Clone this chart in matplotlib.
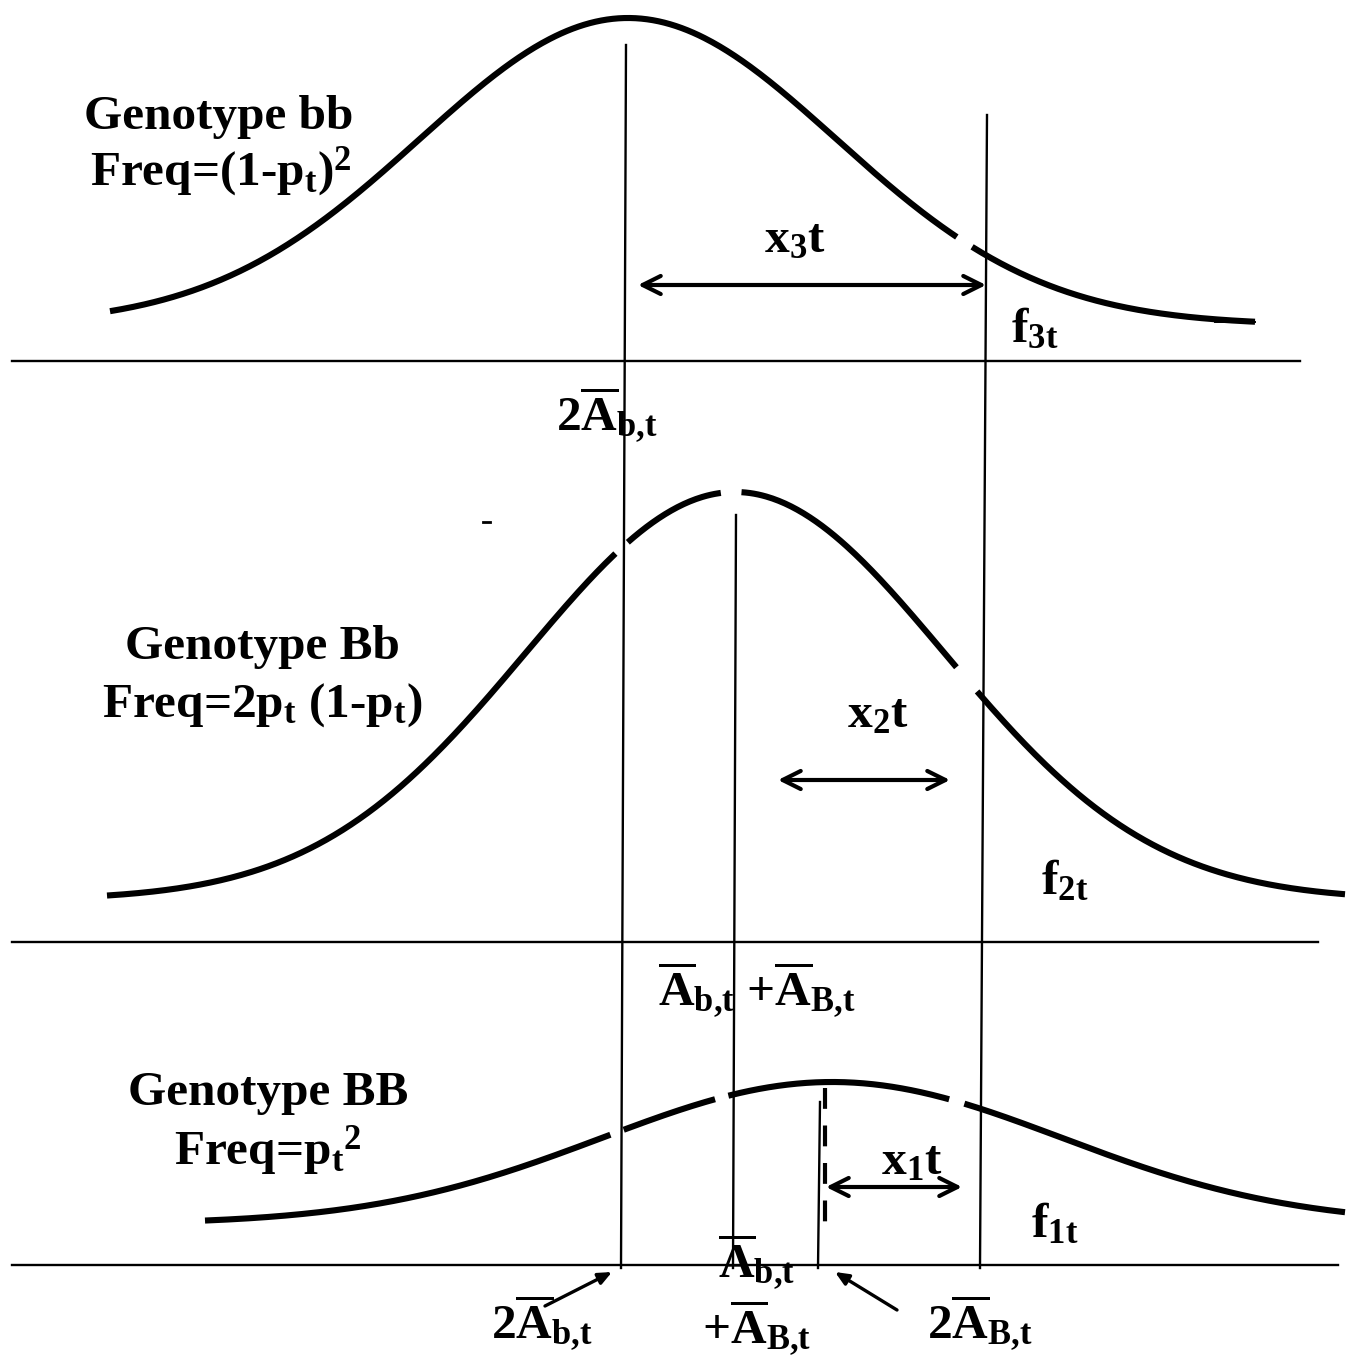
import numpy as np
import matplotlib.pyplot as plt

plt.rcParams['mathtext.fontset'] = 'custom'
plt.rcParams['mathtext.rm'] = 'Liberation Serif:bold'
plt.rcParams['mathtext.bf'] = 'Liberation Serif:bold'
plt.rcParams['mathtext.it'] = 'Liberation Serif:bold'
plt.rcParams['mathtext.default'] = 'bf'

W, H = 1347, 1365

# ---- curve parameters (pixel space) ----
curve_names = ["bb", "Bb", "BB"]
curve_mu = [628, 735, 832]
curve_sigma = [208, 209, 230]
curve_amp = [307, 408, 142]
curve_base = [325, 900, 1224]
curve_x0 = [110, 107, 205]
curve_x1 = [1255, 1345, 1345]
curve_gaps = [[(958, 972)],
              [(617, 626), (722, 740), (958, 976)],
              [(612, 623), (716, 728), (950, 964)]]

# horizontal baselines: y, x start, x end
base_y = [361, 942, 1265]
base_x0 = [12, 12, 12]
base_x1 = [1300, 1318, 1338]

# vertical guide lines: x top, y top, x bottom, y bottom
vline_xt = [626, 987, 736, 820]
vline_yt = [45, 115, 515, 1102]
vline_xb = [621, 980, 733, 818]
vline_yb = [1268, 1268, 1268, 1268]

# double arrows: x left, x right, y
arr_x0 = [638, 778, 826]
arr_x1 = [986, 950, 962]
arr_y = [285, 780, 1187]

fig = plt.figure(figsize=(W / 100, H / 100), dpi=100)
ax = fig.add_axes([0, 0, 1, 1])
ax.set_xlim(0, W)
ax.set_ylim(H, 0)
ax.axis('off')

# curves
for i in range(3):
    x = np.linspace(curve_x0[i], curve_x1[i], 600)
    y = curve_base[i] - curve_amp[i] * np.exp(-(x - curve_mu[i]) ** 2 / (2 * curve_sigma[i] ** 2))
    mask = np.ones_like(x, dtype=bool)
    for g0, g1 in curve_gaps[i]:
        mask &= ~((x > g0) & (x < g1))
    y = np.where(mask, y, np.nan)
    ax.plot(x, y, color='black', lw=4.4, solid_capstyle='butt')

# little double stroke at the end of the top curve
ax.plot([1215, 1255], [322, 322], color='black', lw=1.4)

# baselines
for y, a, b in zip(base_y, base_x0, base_x1):
    ax.plot([a, b], [y, y], color='black', lw=1.7)

# vertical lines
for xt, yt, xb, yb in zip(vline_xt, vline_yt, vline_xb, vline_yb):
    ax.plot([xt, xb], [yt, yb], color='black', lw=1.7)

# dashed thick segment at the BB mean
ax.plot([825, 825], [1088, 1224], color='black', lw=3.0, dashes=(5, 4))

# double arrows
for a, b, y in zip(arr_x0, arr_x1, arr_y):
    ax.annotate('', xy=(b, y), xytext=(a, y),
                arrowprops=dict(arrowstyle='<->,head_length=1.3,head_width=0.65',
                                color='black', lw=3.0, shrinkA=0, shrinkB=0))

# pointer arrows under the bottom baseline
ax.annotate('', xy=(612, 1272), xytext=(545, 1306),
            arrowprops=dict(arrowstyle='-|>,head_length=0.8,head_width=0.35',
                            color='black', lw=2.4, shrinkA=0, shrinkB=0))
ax.annotate('', xy=(835, 1272), xytext=(897, 1310),
            arrowprops=dict(arrowstyle='-|>,head_length=0.8,head_width=0.35',
                            color='black', lw=2.4, shrinkA=0, shrinkB=0))

# stray mark
ax.plot([483, 490], [522, 522], color='black', lw=2)

fs = 35.5
kw = dict(fontsize=fs, fontweight='bold', family='Liberation Serif', color='black')

ax.text(219, 117, 'Genotype bb', ha='center', va='center', **kw)
ax.text(221, 172, r'Freq=(1-p$_{t}$)$^{2}$', ha='center', va='center', **kw)
ax.text(262, 647, 'Genotype Bb', ha='center', va='center', **kw)
ax.text(262, 705, r'Freq=2p$_{t}$ (1-p$_{t}$)', ha='center', va='center', **kw)
ax.text(268, 1093, 'Genotype BB', ha='center', va='center', **kw)
ax.text(268, 1150, r'Freq=p$_{t}$$^{2}$', ha='center', va='center', **kw)

ax.text(795, 240, r'x$_{3}$t', ha='center', va='center', **kw)
ax.text(878, 715, r'x$_{2}$t', ha='center', va='center', **kw)
ax.text(912, 1162, r'x$_{1}$t', ha='center', va='center', **kw)

ax.text(1035, 330, r'f$_{3t}$', ha='center', va='center', **kw)
ax.text(1065, 882, r'f$_{2t}$', ha='center', va='center', **kw)
ax.text(1055, 1225, r'f$_{1t}$', ha='center', va='center', **kw)

ax.text(607, 415, r'2$\overline{A}_{b{,}t}$', ha='center', va='center', **kw)
ax.text(757, 990, r'$\overline{A}_{b{,}t}$ +$\overline{A}_{B{,}t}$', ha='center', va='center', **kw)
ax.text(757, 1262, r'$\overline{A}_{b{,}t}$', ha='center', va='center', **kw)
ax.text(756, 1328, r'+$\overline{A}_{B{,}t}$', ha='center', va='center', **kw)
ax.text(542, 1323, r'2$\overline{A}_{b{,}t}$', ha='center', va='center', **kw)
ax.text(980, 1323, r'2$\overline{A}_{B{,}t}$', ha='center', va='center', **kw)

fig.savefig('out.png', dpi=100, facecolor='white')
